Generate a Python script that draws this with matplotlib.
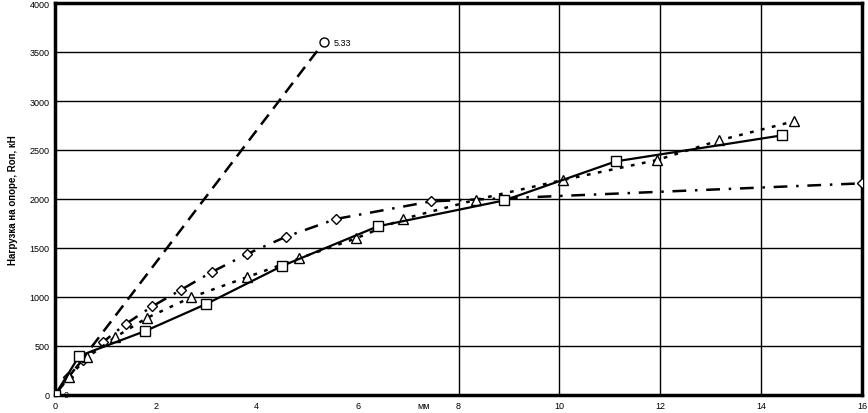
import matplotlib
matplotlib.use("Agg")
import matplotlib.pyplot as plt

# Dashed series (circles)
x_dash = [0.0, 5.33]
y_dash = [0, 3600]
lbl_dash = ["0", "5.33"]

# Solid series (squares)
x_sq = [0.0, 0.48, 1.79, 3.0, 4.5, 6.4, 8.91, 11.12, 14.42]
y_sq = [0, 398, 653, 929, 1316, 1721, 1986, 2384, 2650]

# Dotted series (triangles)
x_tri = [0.0, 0.28, 0.64, 1.19, 1.82, 2.70, 3.80, 4.84, 5.97, 6.90, 8.35, 10.07, 11.94, 13.16, 14.65]
y_tri = [0, 187, 384, 589, 786, 997, 1201, 1395, 1599, 1796, 1993, 2194, 2398, 2597, 2793]

# Dash-dot series (diamonds)
x_dia = [0.0, 0.25, 0.55, 0.95, 1.40, 1.93, 2.49, 3.12, 3.81, 4.58, 5.57, 7.46, 16.0]
y_dia = [0, 180, 360, 540, 724, 905, 1071, 1258, 1439, 1615, 1796, 1976, 2160]

x_ticks = [0, 2, 4, 6, 8, 10, 12, 14, 16]
y_ticks = [0, 500, 1000, 1500, 2000, 2500, 3000, 3500, 4000]
x_grid = [8, 10, 12, 14]
y_label = "Нагрузка на опоре, Rоп, кН"
x_label = "мм"

plt.rcParams['font.family'] = ['Liberation Sans', 'DejaVu Sans']

fig = plt.figure(figsize=(8.68, 4.14), dpi=100)
ax = fig.add_axes([55/868, 18/414, 807/868, 392/414])

for yv in y_ticks[1:-1]:
    ax.axhline(yv, color='black', lw=1.0, zorder=1)
for xv in x_grid:
    ax.axvline(xv, color='black', lw=1.0, zorder=1)

ax.plot(x_dash, y_dash, color='black', lw=1.8, dashes=(5, 3), marker='o', ms=6.5,
        mfc='white', mec='black', mew=1.0, zorder=3)
ax.plot(x_dia, y_dia, color='black', lw=1.8, dashes=(5.5, 3.5, 1, 3.5), marker='D', ms=5.5,
        mfc='white', mec='black', mew=1.0, zorder=3)
ax.plot(x_tri, y_tri, color='black', lw=1.8, dashes=(1.5, 3), marker='^', ms=6.5,
        mfc='white', mec='black', mew=1.0, zorder=3)
ax.plot(x_sq, y_sq, color='black', lw=1.6, linestyle='-', marker='s', ms=7,
        mfc='white', mec='black', mew=1.0, zorder=4)

ax.annotate(lbl_dash[1], (x_dash[1], y_dash[1]), xytext=(7, 0), textcoords='offset points',
            fontsize=6.5, va='center', ha='left')
ax.annotate(lbl_dash[0], (x_dash[0], y_dash[0]), xytext=(6, 0), textcoords='offset points',
            fontsize=6.5, va='center', ha='left')

ax.set_xlim(0, 16)
ax.set_ylim(0, 4000)
ax.set_xticks(x_ticks)
ax.set_yticks(y_ticks)
ax.tick_params(length=0, labelsize=6.5, pad=4)
for s in ax.spines.values():
    s.set_linewidth(2.5)
    s.set_color('black')

ax.set_ylabel(y_label, fontsize=7, fontweight='bold', labelpad=8)
ax.annotate(x_label, (7.3, 0), xycoords=('data', 'axes fraction'), xytext=(0, -4.5),
            textcoords='offset points', fontsize=6.5, ha='center', va='top')

fig.savefig("out.png", dpi=100)
